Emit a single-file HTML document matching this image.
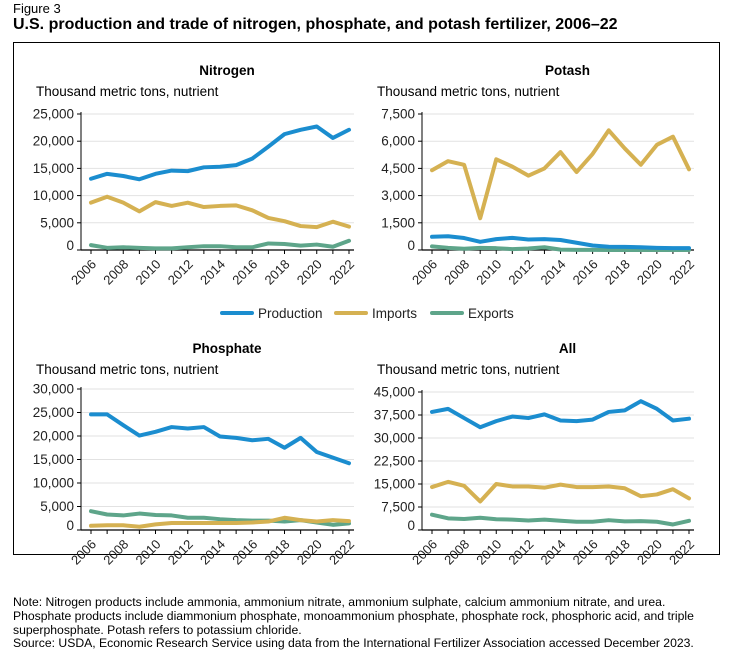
<!DOCTYPE html>
<html><head><meta charset="utf-8">
<style>
body{margin:0;background:#fff;font-family:"Liberation Sans",Arial,sans-serif;width:736px;height:661px;overflow:hidden;position:relative;color:#000}
#fig{position:absolute;left:13px;top:1px;font-size:13px}
#title{position:absolute;left:13px;top:16px;font-size:16px;font-weight:bold}
#box{position:absolute;left:13px;top:42px;width:707px;height:513px;border:1.5px solid #000;box-sizing:border-box}
#note{position:absolute;left:13px;top:596px;font-size:12.2px;line-height:13.8px;width:702px}
svg{position:absolute;left:0;top:0}
</style></head><body>
<div id="fig">Figure 3</div>
<div id="title">U.S. production and trade of nitrogen, phosphate, and potash fertilizer, 2006–22</div>
<div id="box"></div>
<svg id="chart" width="736" height="661"></svg>
<div id="note">Note: Nitrogen products include ammonia, ammonium nitrate, ammonium sulphate, calcium ammonium nitrate, and urea.<br>Phosphate products include diammonium phosphate, monoammonium phosphate, phosphate rock, phosphoric acid, and triple<br>superphosphate. Potash refers to potassium chloride.<br>Source: USDA, Economic Research Service using data from the International Fertilizer Association accessed December 2023.</div>
<script>
const years=[2006,2007,2008,2009,2010,2011,2012,2013,2014,2015,2016,2017,2018,2019,2020,2021,2022];
const yearLabels=[2006,2008,2010,2012,2014,2016,2018,2020,2022];
const seriesNames=["Production","Imports","Exports"];
const nitrogenProduction=[13100,14000,13600,13000,14000,14600,14500,15200,15300,15600,16800,19000,21300,22100,22700,20600,22100];
const nitrogenImports=[8700,9800,8700,7100,8800,8100,8700,7900,8100,8200,7300,5900,5300,4400,4200,5200,4300];
const nitrogenExports=[900,400,500,400,300,300,500,700,700,500,500,1200,1100,800,1000,600,1700];
const nitrogenTicks=[0,5000,10000,15000,20000,25000];
const potashProduction=[730,760,660,450,600,670,580,600,550,400,250,180,170,150,120,100,100];
const potashImports=[4400,4900,4700,1750,5000,4600,4100,4500,5400,4300,5300,6600,5600,4700,5800,6250,4450];
const potashExports=[200,120,70,120,100,50,80,150,20,10,10,0,0,0,0,0,0];
const potashTicks=[0,1500,3000,4500,6000,7500];
const phosphateProduction=[24600,24600,22300,20100,20900,21900,21600,21900,19900,19600,19100,19400,17500,19600,16600,15400,14200];
const phosphateImports=[900,1000,1000,700,1200,1500,1500,1500,1500,1500,1600,1800,2600,2100,1800,2100,1900];
const phosphateExports=[4000,3300,3100,3500,3200,3100,2600,2600,2300,2100,2000,2000,1800,2100,1600,1100,1400];
const phosphateTicks=[0,5000,10000,15000,20000,25000,30000];
const allProduction=[38500,39500,36500,33500,35500,37000,36500,37700,35700,35500,36000,38500,39000,42000,39500,35700,36300];
const allImports=[14000,15700,14400,9300,15000,14200,14200,13800,14800,14000,14000,14200,13600,11000,11600,13300,10300];
const allExports=[5000,3800,3600,4000,3500,3400,3100,3400,3000,2700,2700,3200,2800,2900,2700,1800,3000];
const allTicks=[0,7500,15000,22500,30000,37500,45000];

const colors=["#1b8dcf","#d5b152","#5ea58a"];
const NS="http://www.w3.org/2000/svg";
const svg=document.getElementById('chart');
function mk(tag,attrs,parent){const e=document.createElementNS(NS,tag);for(const k in attrs)e.setAttribute(k,attrs[k]);(parent||svg).appendChild(e);return e;}

function panel(key,title,ax,x0,x1,yTop,yZero,ticks,series,titleY){
  const g=mk('g',{});
  
  
  const max=ticks[ticks.length-1];
  const X=y=>x0+(y-years[0])/(years[years.length-1]-years[0])*(x1-x0);
  const Y=v=>yZero-v/max*(yZero-yTop);
  const t=mk('text',{x:(ax+x1)/2+12,y:titleY,'text-anchor':'middle','font-size':13.5,'font-weight':'bold'},g);
  t.textContent=title;
  
  
  const u=mk('text',{x:ax-45,y:titleY+21,'font-size':13.5},g);
  u.textContent='Thousand metric tons, nutrient';
  
  
  ticks.forEach(v=>{
    const yy=Y(v);
    if(v>0){const gl=mk('line',{x1:ax,x2:x1+5,y1:yy,y2:yy,stroke:'#e2e2e2','stroke-width':1},g);
      
      }
    mk('line',{x1:ax-4,x2:ax,y1:yy,y2:yy,stroke:'#000','stroke-width':1},g);
    const tl=mk('text',{x:ax-7,y:yy+(v===0?0:4.5),'text-anchor':'end','font-size':13.5,fill:'#222'},g);
    tl.textContent=v.toLocaleString('en-US');
    
    
  });
  mk('line',{x1:ax,x2:ax,y1:yTop-2,y2:yZero,stroke:'#000','stroke-width':1},g);
  mk('line',{x1:ax,x2:x1+5,y1:yZero,y2:yZero,stroke:'#000','stroke-width':1.2},g);
  years.forEach(y=>mk('line',{x1:X(y),x2:X(y),y1:yZero,y2:yZero+4,stroke:'#000','stroke-width':1},g));
  yearLabels.forEach(y=>{
    const xl=X(y)+6, yl=yZero+15;
    const tl=mk('text',{x:xl,y:yl,'text-anchor':'end','font-size':13,fill:'#222',transform:`rotate(-45 ${xl} ${yl})`},g);
    tl.textContent=y;
    
    
  });
  series.slice().reverse().forEach((s,ri)=>{
    const i=series.length-1-ri;
    const p=mk('polyline',{points:s.map((v,j)=>X(years[j])+','+Y(v)).join(' '),fill:'none',stroke:colors[i],'stroke-width':4,'stroke-linejoin':'round','stroke-linecap':'round'},g);
    
    
  });
}
panel('nitrogen','Nitrogen',81,91,349,114,250,nitrogenTicks,[nitrogenProduction,nitrogenImports,nitrogenExports],75);
panel('potash','Potash',422,432,689,114,250,potashTicks,[potashProduction,potashImports,potashExports],75);
panel('phosphate','Phosphate',81,91,349,389,530,phosphateTicks,[phosphateProduction,phosphateImports,phosphateExports],353);
panel('all','All',422,432,689,392,530,allTicks,[allProduction,allImports,allExports],353);

const legX=[222,336,432];
seriesNames.forEach((n,i)=>{
  const g=mk('g',{});
  
  
  mk('line',{x1:legX[i],x2:legX[i]+30,y1:313,y2:313,stroke:colors[i],'stroke-width':4,'stroke-linecap':'round'},g);
  const t=mk('text',{x:legX[i]+36,y:318,'font-size':13.5,fill:'#222'},g);
  t.textContent=n;
});
</script>
</body></html>
